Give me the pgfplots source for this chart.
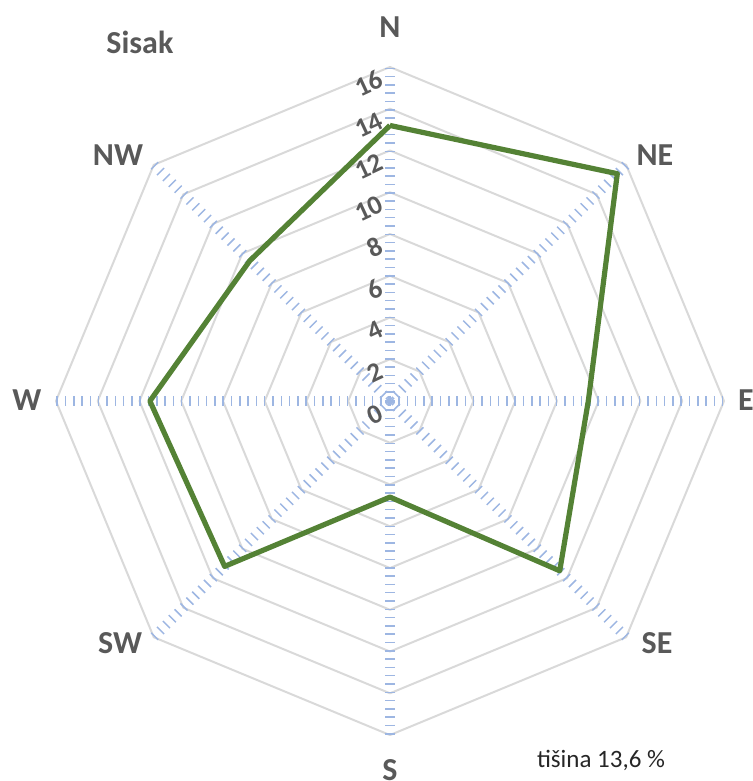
\documentclass[border=0pt]{standalone}
\usepackage{pgfplots}
\usepackage{pgfplotstable}
\pgfplotsset{compat=1.18}
\usepackage{fontspec}
\setmainfont{Carlito}
\definecolor{gridgray}{HTML}{D9D9D9}
\definecolor{spokeblue}{HTML}{9DB6E2}
\definecolor{windgreen}{HTML}{548235}
\definecolor{labgray}{HTML}{595959}
\pgfplotstableread{
angle value
90 13.2
45 15.4
0 9.5
-45 11.5
-90 4.6
-135 11.2
180 11.5
135 9.5
90 13.2
}\windtable
\begin{document}
\begin{tikzpicture}
\begin{axis}[name=ax,
  scale only axis, width=376.5pt, height=390.5pt,
  xmin=-18.68, xmax=17.39, ymin=-18.20, ymax=19.21,
  hide axis, clip=false]
% octagonal grid
\pgfplotsinvokeforeach{2,4,...,16}{
  \addplot[gridgray, line width=1pt, data cs=polar, line join=round]
    coordinates {(0,#1) (45,#1) (90,#1) (135,#1) (180,#1) (225,#1) (270,#1) (315,#1) (360,#1)};
}
% spokes
\pgfplotsinvokeforeach{0,45,...,315}{
  \addplot[spokeblue, line width=5pt, dash pattern=on 0.75pt off 3.4pt, data cs=polar]
    coordinates {(#1,0) (#1,16)};
}
% data
\addplot[windgreen, line width=2.6pt, line join=round, data cs=polar]
  table[x=angle, y=value] {\windtable};
% radial tick labels
\pgfplotsinvokeforeach{0,2,...,16}{
  \node[anchor=east, rotate=25, text=labgray, font=\fontsize{13.5}{13.5}\selectfont\bfseries, inner sep=0pt]
    at (axis cs:-0.4,#1-0.5) {#1};
}
% direction labels
\tikzset{dirlab/.style={text=labgray, font=\fontsize{16}{16}\selectfont\bfseries, inner sep=0pt}}
\node[dirlab] at (axis cs:0,17.92) {N};
\node[dirlab] at (axis cs:12.69,11.78) {NE};
\node[dirlab] at (axis cs:17.05,0.05) {E};
\node[dirlab] at (axis cs:12.79,-11.59) {SE};
\node[dirlab] at (axis cs:0,-17.68) {S};
\node[dirlab] at (axis cs:-12.93,-11.59) {SW};
\node[dirlab] at (axis cs:-17.39,0.05) {W};
\node[dirlab] at (axis cs:-13.03,11.78) {NW};
\node[dirlab] at (axis cs:-11.98,17.2) {Sisak};
\node[text=black!85, font=\fontsize{12.5}{12.5}\selectfont, inner sep=0pt] at (axis cs:10.11,-17.2) {tišina 13,6 \%};
\end{axis}
\pgfresetboundingbox
\path (ax.south west) rectangle (ax.north east);
\end{tikzpicture}
\end{document}
